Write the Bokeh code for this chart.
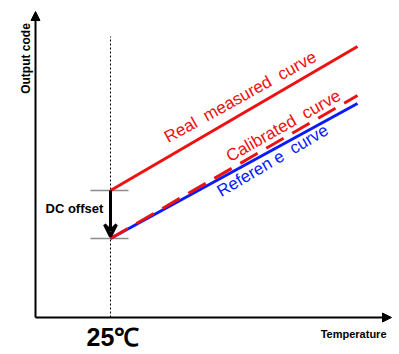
from bokeh.plotting import figure
from bokeh.models import Range1d, Arrow, NormalHead, VeeHead
from bokeh.core.properties import value
from bokeh.embed import file_html
from bokeh.resources import INLINE
import math

# --- data (chart units: x = temperature axis, y = output code axis) ---
temp_x = [110, 357]                 # 25°C point and end of sweep
real_measured = [164, 308]          # real measured curve (with DC offset)
calibrated = [116, 259]             # calibrated curve (dashed)
reference = [116, 251]              # reference curve
offset_levels = [164, 116]          # DC offset marks
x_axis_label = "Temperature"
y_axis_label = "Output code"
tick_label = "25℃"

W, H = 399, 354
p = figure(width=W, height=H, output_backend="svg", toolbar_location=None,
           x_range=Range1d(0, W), y_range=Range1d(0, H), min_border=0)
p.axis.visible = False
p.grid.visible = False
p.outline_line_color = None
p.background_fill_color = "white"
p.border_fill_color = "white"

FONT = value("Liberation Sans")
NB = "\u00a0"

# axes with arrows
p.add_layout(Arrow(end=NormalHead(size=9, fill_color="black", line_color="black"),
                   x_start=35, y_start=37, x_end=35, y_end=343,
                   line_width=2, line_color="black"))
p.add_layout(Arrow(end=NormalHead(size=9, fill_color="black", line_color="black"),
                   x_start=35, y_start=37, x_end=391, y_end=37,
                   line_width=2, line_color="black"))

# vertical dotted line at 25°C
p.line([temp_x[0], temp_x[0]], [37, 318], line_color="black", line_width=1, line_dash="2 2")

# grey offset marks
for lv in offset_levels:
    p.line([temp_x[0] - 20, temp_x[0] + 18], [lv, lv], line_color="#8c8c8c", line_width=1.5)

# curves
p.line(temp_x, reference, line_color="#0a1aff", line_width=3)
p.line(temp_x, calibrated, line_color="#ee1111", line_width=3, line_dash="20 10")
p.line(temp_x, real_measured, line_color="#ee1111", line_width=3)

# DC offset arrow
p.add_layout(Arrow(end=VeeHead(size=12, line_color="black", line_width=3, fill_color=None),
                   x_start=temp_x[0], y_start=offset_levels[0],
                   x_end=temp_x[0], y_end=offset_levels[1] + 2,
                   line_width=3, line_color="black"))

# texts
p.text(x=[45], y=[146], text=["DC offset"], text_font=FONT, text_font_style="bold",
       text_font_size="13px", text_color="black", text_baseline="alphabetic")
p.text(x=[25], y=[296], text=[y_axis_label], text_font=FONT, text_font_style="bold",
       text_font_size="12px", text_color="black", angle=math.pi / 2,
       text_align="center", text_baseline="alphabetic")
p.text(x=[86], y=[18], text=[tick_label], text_font=FONT, text_font_style="bold",
       text_font_size="25px", text_color="black", text_baseline="alphabetic")
p.text(x=[386], y=[21], text=[x_axis_label], text_font=FONT, text_font_style="bold",
       text_font_size="11px", text_color="black", text_align="right",
       text_baseline="alphabetic")

p.text(x=[165], y=[216], text=["Real" + NB * 2 + "measured" + NB * 2 + "curve"], text_font=FONT,
       text_font_size="17px", text_color="#ee1111", angle=math.radians(29),
       text_baseline="alphabetic")
p.text(x=[227], y=[197], text=["Calibrated" + NB * 2 + "curve"], text_font=FONT,
       text_font_size="17px", text_color="#ee1111", angle=math.radians(29.5),
       text_baseline="alphabetic")
p.text(x=[218], y=[162], text=["Referen" + NB + "e" + NB * 2 + "curve"], text_font=FONT,
       text_font_size="17px", text_color="#0a1aff", angle=math.radians(30.5),
       text_baseline="alphabetic")

open("out.html", "w").write(file_html(p, INLINE))
